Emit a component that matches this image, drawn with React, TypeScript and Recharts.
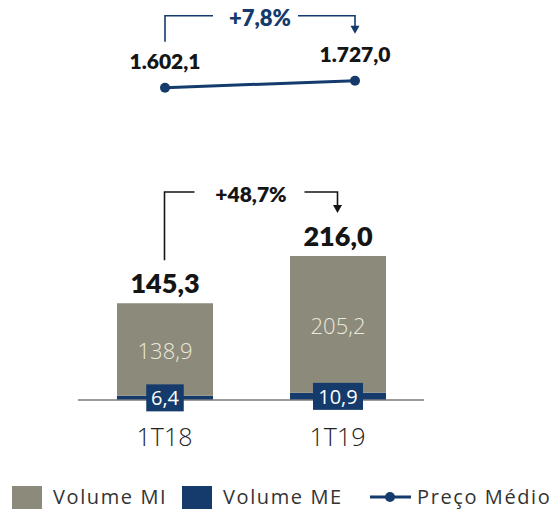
import React from 'react';
import { ComposedChart, Bar, Line, XAxis, YAxis, LabelList, ReferenceLine, Legend } from 'recharts';

const categories = ['1T18', '1T19'];
const volumeMI = [138.9, 205.2];
const volumeME = [6.4, 10.9];
const volumeTotal = [145.3, 216.0];
const precoMedio = [1602.1, 1727.0];
const growthVolume = '+48,7%';
const growthPreco = '+7,8%';
const seriesNames = { mi: 'Volume MI', me: 'Volume ME', preco: 'Preço Médio' };
const legendOrder = ['Volume MI', 'Volume ME', 'Preço Médio'];

const data = categories.map((cat, i) => ({
  cat,
  mi: volumeMI[i],
  me: volumeME[i],
  total: volumeTotal[i],
  preco: precoMedio[i],
}));

const NAVY = '#143b6c';
const GRAY = '#8b8a7b';
const DARK = '#151515';
const NUM_FONT = 'Lato, "Open Sans", sans-serif';
const TXT_FONT = '"Open Sans", Lato, sans-serif';

function fmt(v: number): string {
  const [i, d] = v.toFixed(1).split('.');
  return i.replace(/\B(?=(\d{3})+(?!\d))/g, '.') + ',' + d;
}

const Bracket = (props: any) => {
  const { x1, y1, x2, y2, label, color, startGap, levelGap, endGap, leftLen, rightLen, fontSize } = props;
  if ([x1, y1, x2, y2].some((v) => typeof v !== 'number' || isNaN(v))) return null;
  const level = Math.min(y1, y2) - levelGap;
  const yStart = y1 - startGap;
  const yEnd = y2 - endGap;
  const midX = (x1 + x2) / 2;
  return (
    <g>
      <polyline
        points={`${x1},${yStart} ${x1},${level} ${x1 + leftLen},${level}`}
        fill="none"
        stroke={color}
        strokeWidth={1.6}
      />
      <polyline
        points={`${x2 - rightLen},${level} ${x2},${level} ${x2},${yEnd - 6}`}
        fill="none"
        stroke={color}
        strokeWidth={1.6}
      />
      <polygon points={`${x2 - 4.5},${yEnd - 8} ${x2 + 4.5},${yEnd - 8} ${x2},${yEnd}`} fill={color} />
      <text
        x={midX}
        y={level + 2}
        dy="0.36em"
        textAnchor="middle"
        fill={color}
        fontFamily={NUM_FONT}
        fontWeight={800}
        fontSize={fontSize}
      >
        {label}
      </text>
    </g>
  );
};

const MELabel = (props: any) => {
  const { x, y, width, height, value } = props;
  const txt = fmt(Number(value));
  const w = txt.length * 12.5;
  const cx = x + width / 2;
  const cy = y + height / 2;
  return (
    <g>
      <rect x={cx - w / 2} y={cy - 13.5} width={w} height={27} fill={NAVY} />
      <text x={cx} y={cy} dy="0.36em" textAnchor="middle" fill="#ffffff" fontFamily={TXT_FONT} fontSize={20}>
        {txt}
      </text>
    </g>
  );
};

const MIInnerLabel = (props: any) => {
  const { x, y, width, height, value } = props;
  return (
    <text
      x={x + width / 2}
      y={y + height / 2 + 2}
      dy="0.36em"
      textAnchor="middle"
      fill="#ece9da"
      fontFamily={TXT_FONT}
      fontWeight={300}
      fontSize={22}
    >
      {fmt(Number(value))}
    </text>
  );
};

const TotalLabel = (props: any) => {
  const { x, y, width, value } = props;
  return (
    <text
      x={x + width / 2}
      y={y - 10}
      textAnchor="middle"
      fill={DARK}
      fontFamily={NUM_FONT}
      fontWeight={800}
      fontSize={27}
    >
      {fmt(Number(value))}
    </text>
  );
};

const PriceLabel = (props: any) => {
  const { x, y, value } = props;
  return (
    <text x={x} y={y - 26} dy="0.36em" textAnchor="middle" fill={DARK} fontFamily={NUM_FONT} fontWeight={800} fontSize={21}>
      {fmt(Number(value))}
    </text>
  );
};

const CatTick = (props: any) => {
  const { x, y, payload } = props;
  return (
    <text x={x} y={y} dy={38} textAnchor="middle" fill="#222" fontFamily={TXT_FONT} fontWeight={300} fontSize={25}>
      {payload.value}
    </text>
  );
};

const legendLefts = [12, 182, 370];

const renderLegend = (props: any) => {
  const payload = [...(props.payload || [])].sort(
    (a: any, b: any) => legendOrder.indexOf(a.value) - legendOrder.indexOf(b.value)
  );
  return (
    <div style={{ position: 'relative', width: 560, height: 26 }}>
      {payload.map((entry: any, i: number) => (
        <div
          key={entry.value}
          style={{ position: 'absolute', left: legendLefts[i], top: 0, height: 26, display: 'flex', alignItems: 'center' }}
        >
          {entry.type === 'line' ? (
            <svg width={41} height={14} style={{ marginRight: 6 }}>
              <line x1={0} y1={7} x2={41} y2={7} stroke={entry.color} strokeWidth={3} />
              <circle cx={20} cy={7} r={5} fill={entry.color} />
            </svg>
          ) : (
            <div style={{ width: 30, height: 23, background: entry.color, marginRight: 11 }} />
          )}
          <span
            style={{
              fontFamily: TXT_FONT,
              fontSize: 20,
              color: '#333',
              letterSpacing: 1.6,
              lineHeight: '26px',
              whiteSpace: 'nowrap',
            }}
          >
            {entry.value}
          </span>
        </div>
      ))}
    </div>
  );
};

export default function App() {
  return (
    <div style={{ position: 'absolute', left: 0, top: 0, width: 560, height: 513, background: '#fff' }}>
      <ComposedChart width={560} height={513} data={data} margin={{ top: 40, right: 136, bottom: 83, left: 78 }}>
        <XAxis
          xAxisId="bar"
          dataKey="cat"
          scale="band"
          height={30}
          axisLine={{ stroke: '#7a7a7a', strokeWidth: 1.5 }}
          tickLine={false}
          tick={<CatTick />}
          interval={0}
        />
        <XAxis xAxisId="line" dataKey="cat" scale="point" padding={{ left: 87, right: 69 }} hide />
        <YAxis yAxisId="bar" domain={[0, 540]} hide />
        <YAxis yAxisId="line" domain={[-3970, 2453]} hide />
        <Bar
          xAxisId="bar"
          yAxisId="bar"
          dataKey="me"
          name={seriesNames.me}
          stackId="v"
          fill={NAVY}
          barSize={96}
          isAnimationActive={false}
        >
          <LabelList dataKey="me" content={<MELabel />} />
        </Bar>
        <Bar
          xAxisId="bar"
          yAxisId="bar"
          dataKey="mi"
          name={seriesNames.mi}
          stackId="v"
          fill={GRAY}
          barSize={96}
          isAnimationActive={false}
        >
          <LabelList dataKey="mi" content={<MIInnerLabel />} />
          <LabelList dataKey="total" content={<TotalLabel />} />
        </Bar>
        <Line
          xAxisId="line"
          yAxisId="line"
          dataKey="preco"
          name={seriesNames.preco}
          stroke={NAVY}
          strokeWidth={3}
          dot={{ r: 5, fill: NAVY, stroke: NAVY, strokeWidth: 0 }}
          activeDot={false}
          isAnimationActive={false}
        >
          <LabelList dataKey="preco" content={<PriceLabel />} />
        </Line>
        <ReferenceLine
          xAxisId="bar"
          yAxisId="bar"
          ifOverflow="visible"
          segment={[
            { x: categories[0], y: volumeTotal[0] },
            { x: categories[1], y: volumeTotal[1] },
          ]}
          shape={(p: any) => (
            <Bracket
              {...p}
              label={growthVolume}
              color={DARK}
              startGap={43}
              levelGap={64}
              endGap={43}
              leftLen={30}
              rightLen={33}
              fontSize={21}
            />
          )}
        />
        <ReferenceLine
          xAxisId="line"
          yAxisId="line"
          ifOverflow="visible"
          segment={[
            { x: categories[0], y: precoMedio[0] },
            { x: categories[1], y: precoMedio[1] },
          ]}
          shape={(p: any) => (
            <Bracket
              {...p}
              label={growthPreco}
              color={NAVY}
              startGap={46}
              levelGap={65}
              endGap={47}
              leftLen={48}
              rightLen={57}
              fontSize={22}
            />
          )}
        />
        <Legend
          verticalAlign="middle"
          align="center"
          layout="horizontal"
          wrapperStyle={{ top: 484, left: 0, width: 560, height: 26 }}
          content={renderLegend}
        />
      </ComposedChart>
    </div>
  );
}
